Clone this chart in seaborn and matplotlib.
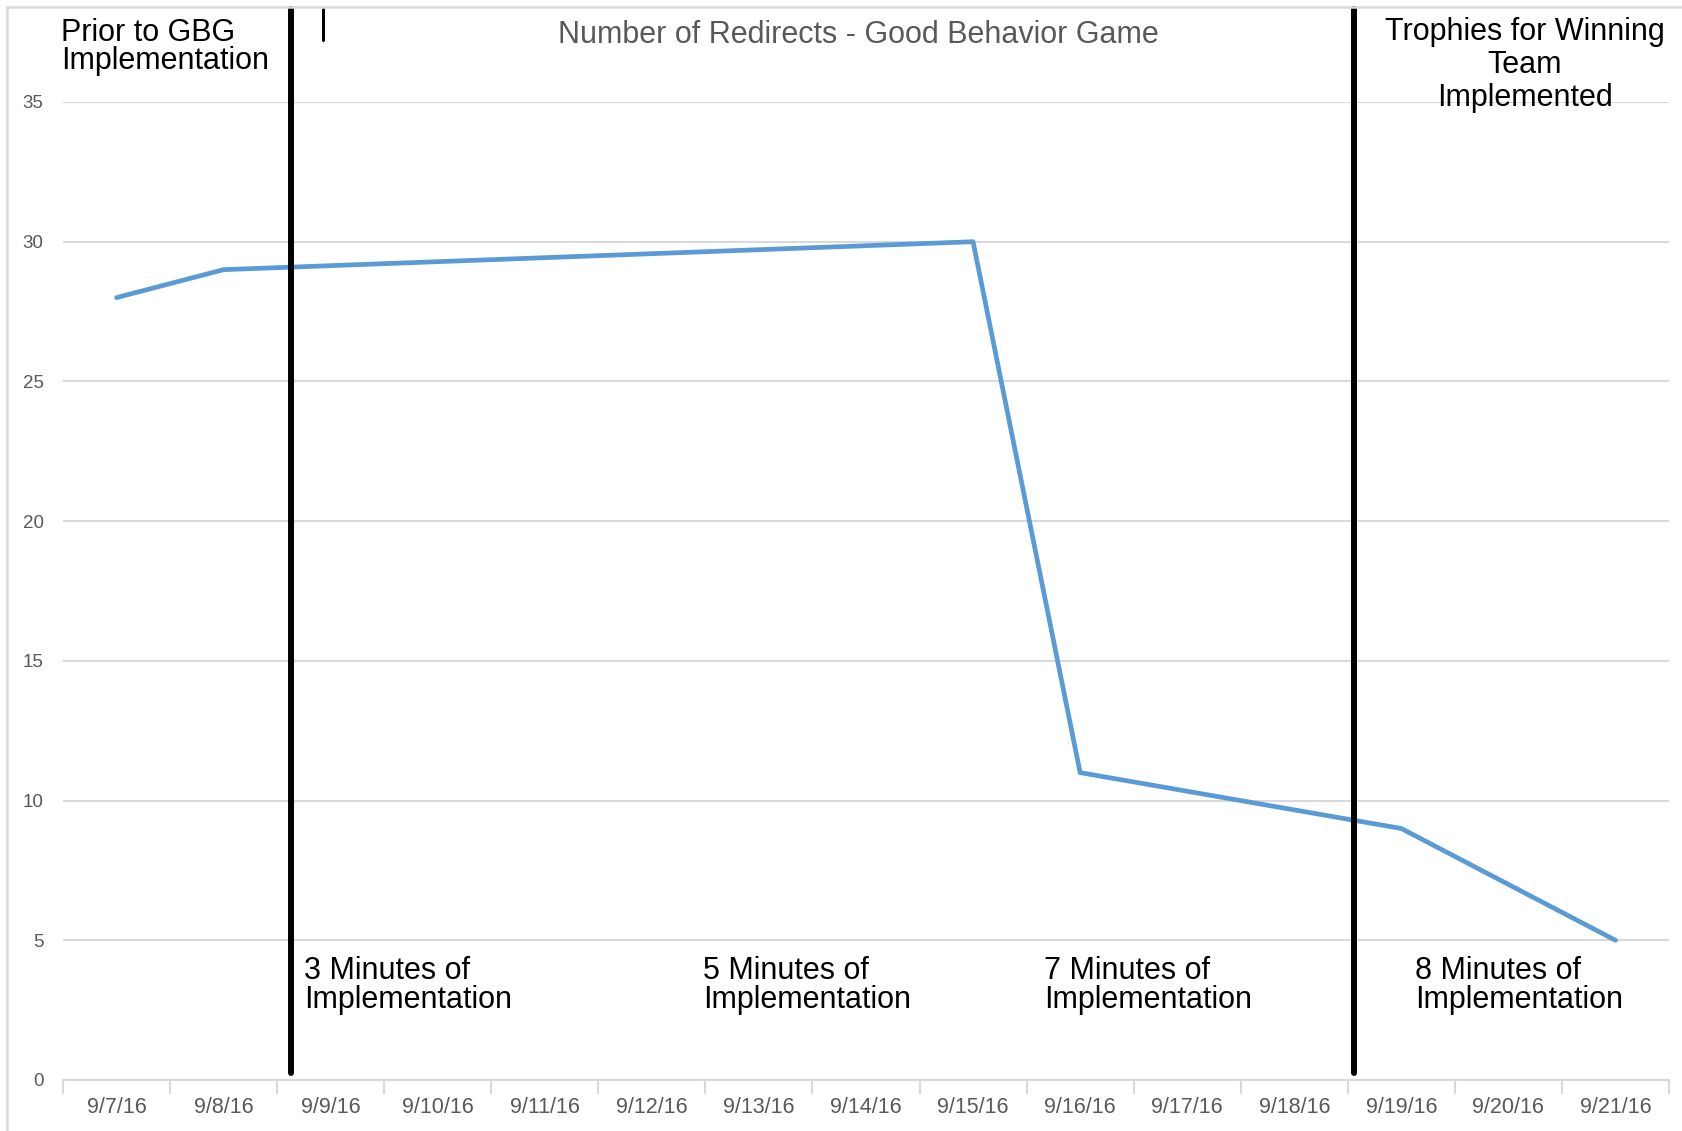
import numpy as np
import pandas as pd
import matplotlib
matplotlib.use("Agg")
import matplotlib.pyplot as plt
import seaborn as sns
from matplotlib.patches import Rectangle

# ---------------- data ----------------
dates = ["9/7/16", "9/8/16", "9/9/16", "9/10/16", "9/11/16", "9/12/16", "9/13/16",
         "9/14/16", "9/15/16", "9/16/16", "9/17/16", "9/18/16", "9/19/16", "9/20/16",
         "9/21/16"]
redirects = [28, 29, None, None, None, None, None, None, 30, 11, None, None, 9, None, 5]
y_ticks = [0, 5, 10, 15, 20, 25, 30, 35]
title = "Number of Redirects - Good Behavior Game"
top_left_label = ["Prior to GBG", "Implementation"]
top_right_label = ["Trophies for Winning", "Team", "Implemented"]
phase_labels = ["3 Minutes of", "5 Minutes of", "7 Minutes of", "8 Minutes of"]
phase_sub = "Implementation"

# ---------------- style ----------------
sns.set_theme(style="white")
plt.rcParams["font.family"] = ["Liberation Sans", "DejaVu Sans"]

W, H = 1683, 1131
fig = plt.figure(figsize=(W / 100, H / 100), dpi=100)
fig.patch.set_facecolor("white")

ax_left, ax_right, ax_bottom, ax_top = 63, 1669, 1080, 102
ax = fig.add_axes([ax_left / W, 1 - ax_bottom / H, (ax_right - ax_left) / W,
                   (ax_bottom - ax_top) / H])

df = pd.DataFrame({"pos": np.arange(len(dates)), "redirects": redirects})
df = df.dropna()
sns.lineplot(data=df, x="pos", y="redirects", ax=ax, color="#5B9BD5",
             linewidth=3.4, zorder=3)

ax.set_xlim(-0.5, len(dates) - 0.5)
ax.set_ylim(0, 35)
ax.set_yticks(y_ticks)
ax.set_axisbelow(True)
ax.yaxis.grid(True, color="#D9D9D9", linewidth=1.5)
ax.xaxis.grid(False)
ax.set_xticks(np.arange(len(dates)))
ax.set_xticklabels(dates)
ax.set_xticks(np.arange(-0.5, len(dates)), minor=True)
ax.tick_params(axis="x", which="major", length=0, pad=12, labelsize=15.5,
               labelcolor="#595959")
ax.tick_params(axis="x", which="minor", length=10, width=1.5, color="#D9D9D9",
               direction="out", bottom=True)
ax.tick_params(axis="y", length=0, pad=14, labelsize=13.5, labelcolor="#595959")
for s in ["left", "right", "top"]:
    ax.spines[s].set_visible(False)
ax.spines["bottom"].set_color("#D9D9D9")
ax.spines["bottom"].set_linewidth(1.5)
ax.set_xlabel("")
ax.set_ylabel("")


def px_to_axy(y_px):
    return (ax_bottom - y_px) / (ax_bottom - ax_top)


def px_to_datax(x_px):
    return (x_px - ax_left) / ((ax_right - ax_left) / len(dates)) - 0.5


# phase divider lines (drawn shapes)
for xpx in [291, 1354]:
    ax.axvline(px_to_datax(xpx), ymin=px_to_axy(1073), ymax=px_to_axy(9),
               color="black", linewidth=4.3, clip_on=False, zorder=4)
ax.axvline(px_to_datax(323), ymin=px_to_axy(40), ymax=px_to_axy(9),
           color="black", linewidth=2.2, clip_on=False, zorder=4)

# figure border
fig.add_artist(Rectangle((7 / W, -0.1), 2, 1 - 7 / H + 0.1, fill=False,
                         ec="#D9D9D9", lw=1.8, transform=fig.transFigure))


def ftext(x, y, s, **kw):
    fig.text(x / W, 1 - y / H, s, va="baseline", **kw)


ftext(858, 43, title, ha="center", fontsize=22, color="#595959")

ftext(61, 41, top_left_label[0], ha="left", fontsize=22, color="black")
ftext(61, 69, top_left_label[1], ha="left", fontsize=22, color="black")

for yb, s in zip([40, 73, 106], top_right_label):
    ftext(1525, yb, s, ha="center", fontsize=22, color="black")

for xl, s in zip([304, 703, 1044, 1415], phase_labels):
    ftext(xl, 979, s, ha="left", fontsize=22, color="black")
    ftext(xl, 1008, phase_sub, ha="left", fontsize=22, color="black")

fig.savefig("out.png", dpi=100)
